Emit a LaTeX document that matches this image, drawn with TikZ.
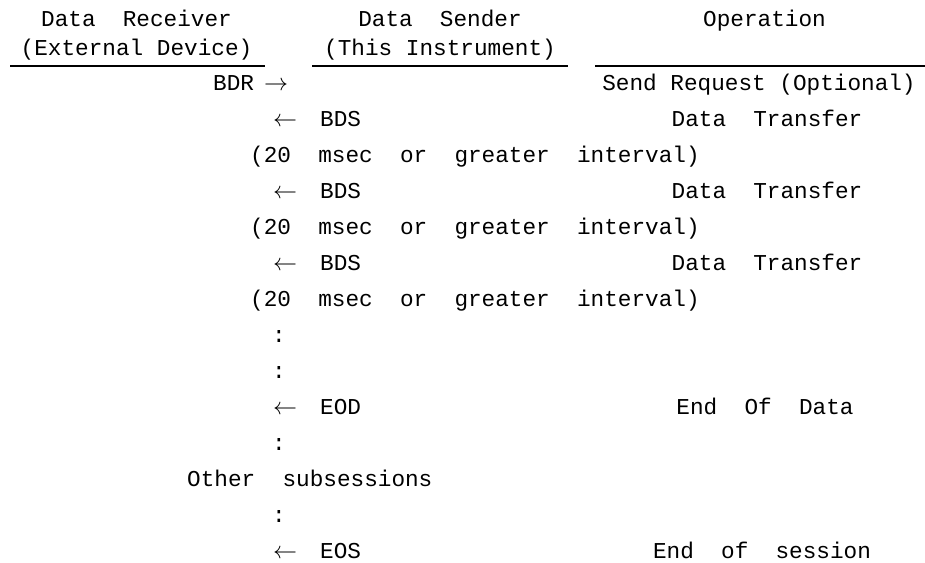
\RequirePackage{fix-cm}
\documentclass[tikz,border=0pt]{standalone}
\usepackage{fontspec}
\setmonofont{Liberation Mono}
\begin{document}
\begin{tikzpicture}[x=1pt,y=-1pt,
  txt/.style={font=\ttfamily\fontsize{22.7}{26}\selectfont, inner sep=0pt, anchor=base, text=black},
  lft/.style={txt, anchor=base west},
  arr/.style={inner sep=0pt, anchor=base west, font=\fontsize{24}{28}\selectfont},
  rulel/.style={line width=1.8pt}]
\useasboundingbox (0,0) rectangle (925,562);
% headers
\node[txt] (h1a) at (136.5,27) {Data~~Receiver};
\node[txt] (h1b) at (136.5,55) {(External Device)};
\node[txt] (h2a) at (440,27) {Data~~Sender};
\node[txt] (h2b) at (440,55) {(This Instrument)};
\node[txt] (h3a) at (764.5,27) {Operation};
\coordinate (l1s) at (10,66);  \coordinate (l1e) at (265,66);
\coordinate (l2s) at (312,66); \coordinate (l2e) at (568,66);
\coordinate (l3s) at (595,66); \coordinate (l3e) at (925,66);
\draw[rulel] (l1s) -- (l1e);
\draw[rulel] (l2s) -- (l2e);
\draw[rulel] (l3s) -- (l3e);
% row 0
\node[lft] (bdr) at (213,90) {BDR};
\node[arr] (a0) at (264,90) {$\rightarrow$};
\node[txt] (op0) at (759,90) {Send Request (Optional)};
% row 1
\node[arr] (a1) at (273,126) {$\leftarrow$};
\node[lft] (bds1) at (320,126) {BDS};
\node[txt] (op1) at (767,126) {Data~~Transfer};
\node[lft] (iv1) at (250,162) {(20~~msec~~or~~greater~~interval)};
% row 3
\node[arr] (a3) at (273,198) {$\leftarrow$};
\node[lft] (bds3) at (320,198) {BDS};
\node[txt] (op3) at (767,198) {Data~~Transfer};
\node[lft] (iv4) at (250,234) {(20~~msec~~or~~greater~~interval)};
% row 5
\node[arr] (a5) at (273,270) {$\leftarrow$};
\node[lft] (bds5) at (320,270) {BDS};
\node[txt] (op5) at (767,270) {Data~~Transfer};
\node[lft] (iv6) at (250,306) {(20~~msec~~or~~greater~~interval)};
% dots
\node[txt] (c7) at (279,342) {:};
\node[txt] (c8) at (279,378) {:};
% EOD
\node[arr] (a9) at (273,414) {$\leftarrow$};
\node[lft] (eod) at (320,414) {EOD};
\node[txt] (op9) at (765,414) {End~~Of~~Data};
\node[txt] (c10) at (279,450) {:};
\node[lft] (oth) at (187,486) {Other~~subsessions};
\node[txt] (c12) at (279,522) {:};
% EOS
\node[arr] (a13) at (273,558) {$\leftarrow$};
\node[lft] (eos) at (320,558) {EOS};
\node[txt] (op13) at (762,558) {End~~of~~session};
\end{tikzpicture}
\end{document}
